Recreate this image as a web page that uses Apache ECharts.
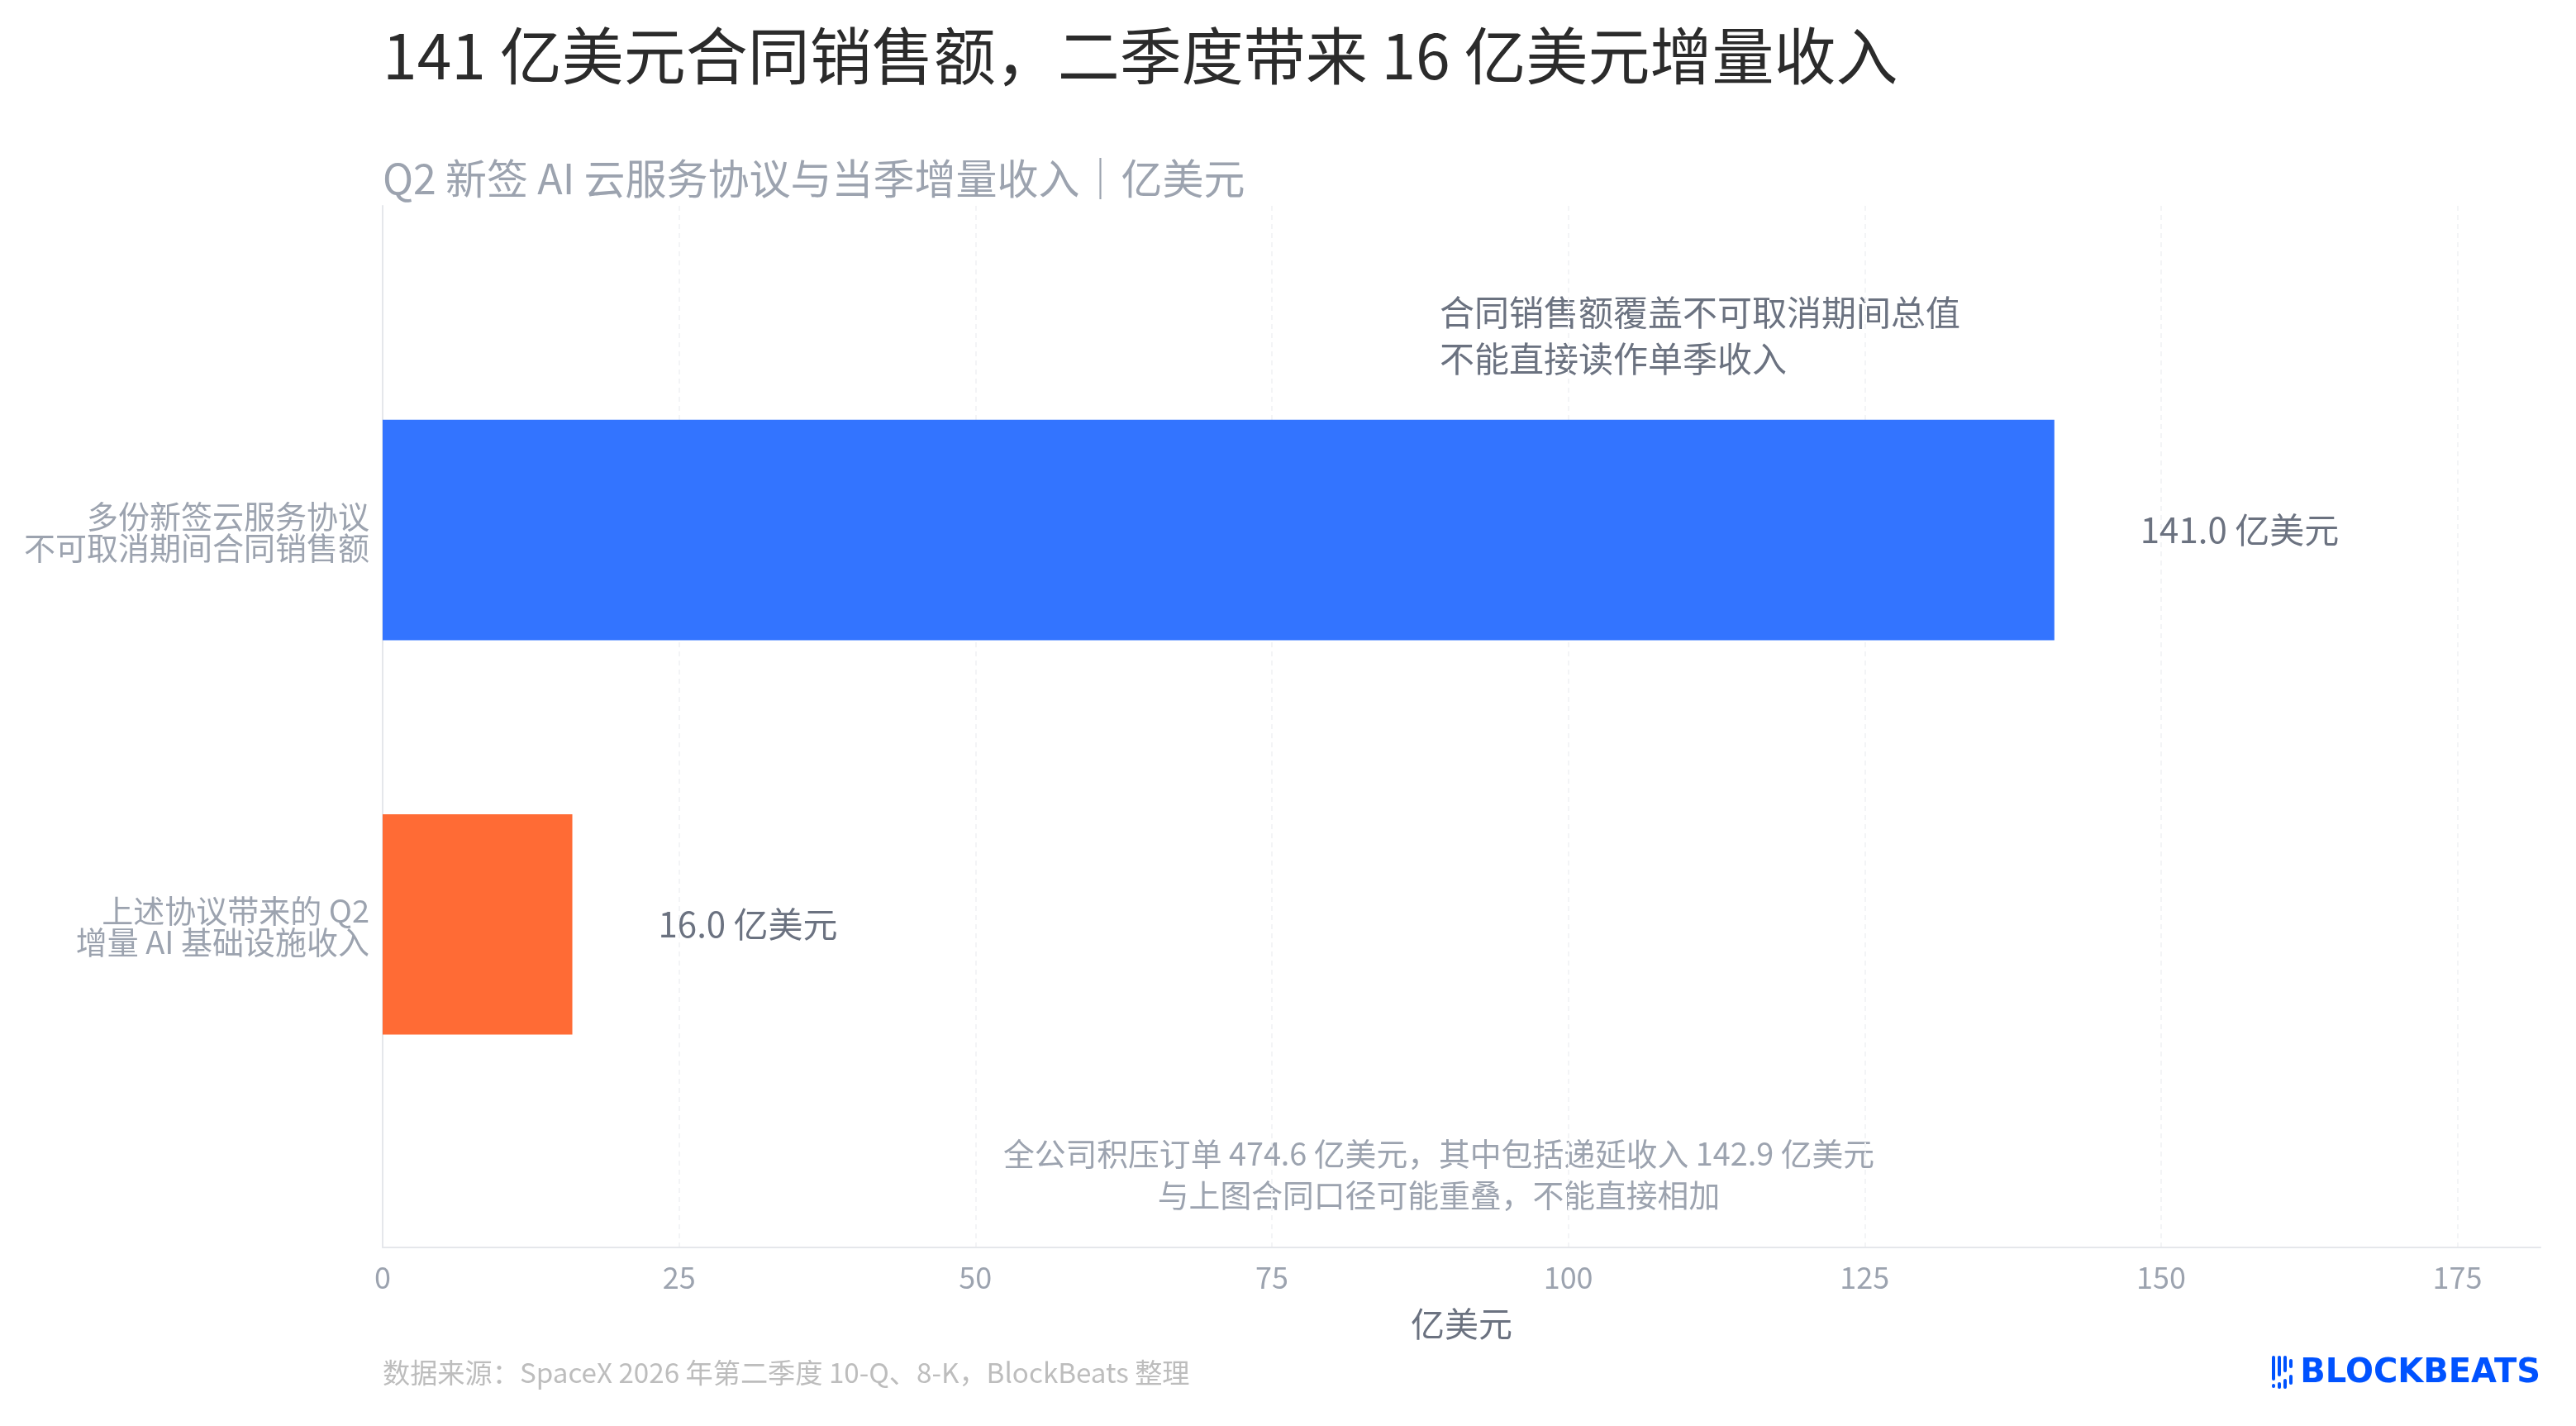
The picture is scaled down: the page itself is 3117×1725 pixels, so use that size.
<!DOCTYPE html>
<html><head><meta charset="utf-8">
<style>html,body{margin:0;padding:0;background:#fff}#c{width:3117px;height:1725px}</style>
<script src="https://cdn.jsdelivr.net/npm/echarts@6/dist/echarts.min.js"></script>
</head><body><div id="c"></div>
<script>
const categories = ['多份新签云服务协议\n不可取消期间合同销售额', '上述协议带来的 Q2\n增量 AI 基础设施收入'];
const values = [141.0, 16.0];
const barColors = ['#3374ff', '#ff6b35'];
const valueSuffix = ' 亿美元';
const titleText = '141 亿美元合同销售额，二季度带来 16 亿美元增量收入';
const subtitleText = 'Q2 新签 AI 云服务协议与当季增量收入｜亿美元';
const noteTop = '合同销售额覆盖不可取消期间总值\n不能直接读作单季收入';
const noteBottom = ['全公司积压订单 474.6 亿美元，其中包括递延收入 142.9 亿美元', '与上图合同口径可能重叠，不能直接相加'];
const sourceText = '数据来源：SpaceX 2026 年第二季度 10-Q、8-K，BlockBeats 整理';
const logoText = 'BLOCKBEATS';
const logoBars = [[0,0,30],[0,34,5],[7,0,25],[7,32,8],[14,0,20],[14,28,12],[21,4,11],[21,23,12]];
const F = '"Noto Sans CJK SC","Noto Sans",sans-serif';

const chart = echarts.init(document.getElementById('c'), null, {renderer:'canvas', width:3117, height:1725});
const BAR_H = 0.559;
chart.setOption({
  backgroundColor:'#ffffff',
  animation:false,
  grid:{left:463, right:43, top:249, bottom:216, containLabel:false},
  xAxis:{type:'value', min:0, max:182, interval:25,
    name:'亿美元', nameLocation:'middle', nameGap:72,
    nameTextStyle:{fontFamily:F, fontSize:41, color:'#6b7280'},
    axisLine:{show:true, onZero:false, lineStyle:{color:'#e5e7eb', width:2}},
    axisTick:{show:false},
    axisLabel:{fontFamily:F, fontSize:36, color:'#9ca3af', margin:18, showMaxLabel:false},
    splitLine:{show:true, showMaxLine:false, lineStyle:{color:'#f3f4f6', width:2, type:[6,5]}}
  },
  yAxis:{type:'value', inverse:true, min:-0.822, max:1.819,
    axisLine:{show:true, onZero:false, lineStyle:{color:'#e5e7eb', width:2}},
    axisTick:{show:false}, splitLine:{show:false},
    axisLabel:{customValues:[0.004,1.004], formatter:(v)=>categories[Math.floor(v)],
      fontFamily:F, fontSize:38, lineHeight:38, color:'#9ca3af', margin:16, align:'right'}
  },
  series:[{
    type:'custom', coordinateSystem:'cartesian2d',
    data:values.map((v,i)=>[v,i]),
    encode:{x:0,y:1},
    renderItem:(params,api)=>{
      const v=api.value(0), i=api.value(1);
      const a=api.coord([0,i-BAR_H/2]), b=api.coord([v,i+BAR_H/2]);
      const mid=api.coord([v,i]);
      return {type:'group',children:[
        {type:'rect',shape:{x:a[0],y:a[1],width:b[0]-a[0],height:b[1]-a[1]},style:{fill:barColors[i]}},
        {type:'text',x:mid[0]+104,y:mid[1],style:{text:v.toFixed(1)+valueSuffix,fontFamily:F,fontSize:42,fill:'#6b7280',textAlign:'left',textVerticalAlign:'middle'}}
      ]};
    }
  }],
  graphic:[
    {type:'text',left:463,top:30,style:{text:titleText,fontFamily:F,fontSize:75,fill:'#2b2b2b'}},
    {type:'text',left:463,top:191,style:{text:subtitleText,fontFamily:F,fontSize:50,fill:'#9ca3af'}},
    {type:'text',left:1742,top:350,style:{text:noteTop,fontFamily:F,fontSize:42,lineHeight:56,fill:'#6b7280'}},
    {type:'text',x:1741,y:1396,style:{text:noteBottom[0],fontFamily:F,fontSize:37.8,fill:'#9ca3af',textAlign:'center',textVerticalAlign:'middle'}},
    {type:'text',x:1741,y:1446,style:{text:noteBottom[1],fontFamily:F,fontSize:37.8,fill:'#9ca3af',textAlign:'center',textVerticalAlign:'middle'}},
    {type:'text',x:463,y:1660,style:{text:sourceText,fontFamily:F,fontSize:33.2,fill:'#bdbdbd',textAlign:'left',textVerticalAlign:'middle'}},
    {type:'text',x:3074,y:1662,style:{text:logoText,fontFamily:'"DejaVu Sans",sans-serif',fontWeight:'bold',fontSize:40,fill:'#0052ff',textAlign:'right',textVerticalAlign:'middle'}},
    ...logoBars.map(b=>({type:'rect',x:2749+b[0],y:1640+b[1],shape:{x:0,y:0,width:4,height:b[2],r:2},style:{fill:'#0052ff'}}))
  ]
});
</script></body></html>
